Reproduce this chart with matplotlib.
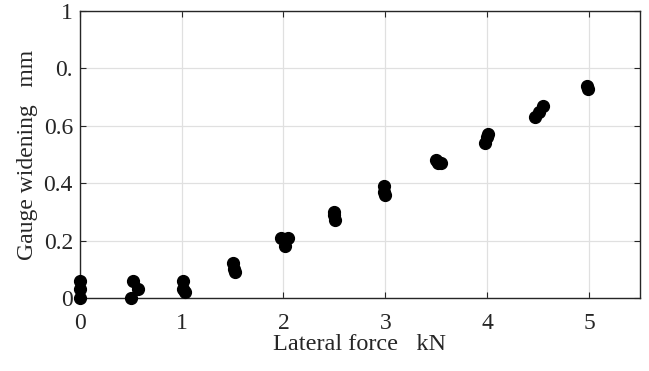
import numpy as np
import matplotlib.pyplot as plt

plt.rcParams['font.family'] = ['Liberation Serif', 'DejaVu Serif']

# Measured points (lateral force in kN, gauge widening in mm)
force = [0, 0, 0,
         0.50, 0.52, 0.57,
         1.01, 1.01, 1.03,
         1.50, 1.51, 1.52,
         1.98, 2.01, 2.04,
         2.50, 2.50, 2.51,
         2.99, 2.99, 3.00,
         3.50, 3.52, 3.55,
         3.98, 4.00, 4.01,
         4.47, 4.51, 4.55,
         4.98, 4.99]
widening = [0.0, 0.03, 0.06,
            0.0, 0.06, 0.03,
            0.06, 0.03, 0.02,
            0.12, 0.10, 0.09,
            0.21, 0.18, 0.21,
            0.30, 0.29, 0.27,
            0.39, 0.37, 0.36,
            0.48, 0.47, 0.47,
            0.54, 0.56, 0.57,
            0.63, 0.65, 0.67,
            0.74, 0.73]

xticks = [0, 1, 2, 3, 4, 5]
yticks = [0, 0.2, 0.4, 0.6, 0.8, 1]
ytick_labels = ['0', '0.2', '0.4', '0.6', '0.', '1']

fig = plt.figure(figsize=(6.49, 3.71), dpi=100)
ax = fig.add_axes([0.123, 0.197, 0.863, 0.773])

ax.plot(force, widening, 'o', color='black', markersize=8.5, linestyle='none', clip_on=False, zorder=3)

ax.set_xlim(0, 5.5)
ax.set_ylim(0, 1)
ax.set_xticks(xticks)
ax.set_yticks(yticks)
ax.set_yticklabels(ytick_labels)
ax.grid(True, color='#e0e0e0', linewidth=0.9)
ax.set_axisbelow(True)

ax.tick_params(direction='in', top=True, right=True, labelsize=17, length=4,
               color='#262626', labelcolor='#262626')
ax.tick_params(axis='x', pad=11)
ax.tick_params(axis='y', pad=5)
for s in ax.spines.values():
    s.set_color('#262626')
    s.set_linewidth(1.0)

ax.set_xlabel('Lateral force   kN', fontsize=17.5, color='#262626', labelpad=0)
ax.set_ylabel('Gauge widening   mm', fontsize=17, color='#262626', labelpad=4)

fig.savefig('out.png', dpi=100)
